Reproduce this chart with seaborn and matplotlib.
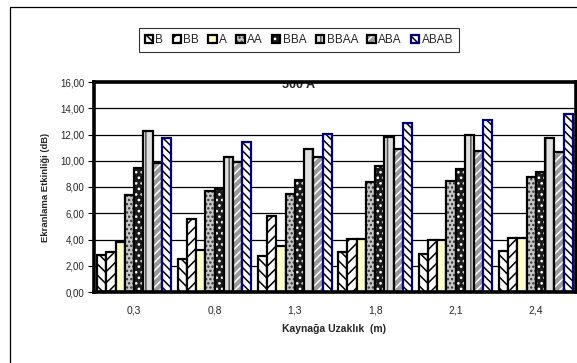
import numpy as np
import pandas as pd
import matplotlib
matplotlib.use("Agg")
import matplotlib.pyplot as plt
from matplotlib.patches import Patch, Rectangle
import seaborn as sns

# ---- data ----
distances = ["0,3", "0,8", "1,3", "1,8", "2,1", "2,4"]
series_names = ["B", "BB", "A", "AA", "BBA", "BBAA", "ABA", "ABAB"]
B = [2.80, 2.54, 2.75, 3.05, 2.87, 3.09]
BB = [3.08, 5.57, 5.77, 4.07, 3.93, 4.13]
A = [3.84, 3.20, 3.48, 4.07, 3.93, 4.13]
AA = [7.37, 7.68, 7.49, 8.38, 8.47, 8.73]
BBA = [9.47, 7.86, 8.54, 9.60, 9.38, 9.11]
BBAA = [12.30, 10.30, 10.86, 11.79, 11.99, 11.70]
ABA = [9.85, 9.93, 10.28, 10.86, 10.76, 10.63]
ABAB = [11.74, 11.42, 12.02, 12.87, 13.11, 13.54]
y_ticks = [0, 2, 4, 6, 8, 10, 12, 14, 16]
title = "500 A"
x_label = "Kaynağa Uzaklık  (m)"
y_label = "Ekranlama Etkinliği (dB)"

values = [B, BB, A, AA, BBA, BBAA, ABA, ABAB]
df = pd.DataFrame(
    [(d, s, v) for s, vals in zip(series_names, values) for d, v in zip(distances, vals)],
    columns=["dist", "series", "val"],
)

# ---- styles: face, hatch, hatch colour, edge ----
styles = {
    "B":    ("#ffffff", "\\\\\\", "#000000", "#000000"),
    "BB":   ("#ffffff", "///",   "#000000", "#000000"),
    "A":    ("#ffffcc", "",      "#000000", "#000000"),
    "AA":   ("#c8c8c8", "....",  "#303030", "#000000"),
    "BBA":  ("#1c1c1c", "...",   "#ffffff", "#000000"),
    "BBAA": ("#e0e0e0", "||",    "#555555", "#000000"),
    "ABA":  ("#9a9a9a", "////",  "#ffffff", "#000000"),
    "ABAB": ("#ffffff", "\\\\\\\\", "#000000", "#000080"),
}

sns.set_style("white")
plt.rcParams["font.family"] = ["Liberation Sans", "DejaVu Sans"]
plt.rcParams["hatch.linewidth"] = 1.1

fig = plt.figure(figsize=(5.77, 3.63), dpi=100)
ax = fig.add_axes([94 / 577, 1 - 292 / 363, (576 - 94) / 577, (292 - 82) / 363])

palette = {s: styles[s][0] for s in series_names}
sns.barplot(data=df, x="dist", y="val", hue="series", hue_order=series_names,
            order=distances, palette=palette, width=0.92, gap=0,
            edgecolor="black", linewidth=1.6, saturation=1, legend=False, ax=ax)

for cont, s in zip(ax.containers, series_names):
    face, hatch, hcol, edge = styles[s]
    for p in cont:
        p.set_facecolor(face)
        p.set_edgecolor(edge)
        p.set_hatch(hatch if hatch else None)
        p._hatch_color = matplotlib.colors.to_rgba(hcol)
        p.set_zorder(3)

ax.set_ylim(0, 16)
ax.set_xlim(-0.5, len(distances) - 0.5)
ax.set_yticks(y_ticks)
ax.set_yticklabels([f"{t:.2f}".replace(".", ",") for t in y_ticks], fontsize=7)
ax.set_xticks(range(len(distances)))
ax.set_xticklabels(distances, fontsize=7.5)
ax.set_xticks(np.arange(-0.5, len(distances)), minor=True)
ax.tick_params(axis="x", which="major", length=0, pad=10)
ax.tick_params(axis="x", which="minor", length=4, width=0.8, direction="out", color="black")
ax.tick_params(axis="y", length=4, width=0.8, direction="out", color="black", left=True, pad=3)
ax.grid(axis="y", color="black", linewidth=0.9)
ax.set_axisbelow(True)
for sp in ax.spines.values():
    sp.set_visible(True)
    sp.set_color("black")
    sp.set_linewidth(2.6)
    sp.set_zorder(5)

ax.set_xlabel("")
ax.set_ylabel("")
fig.text(334 / 577, 1 - 329 / 363, x_label, ha="center", va="center",
         fontsize=7.5, fontweight="bold")
fig.text(45 / 577, 1 - 187 / 363, y_label, ha="center", va="center",
         rotation=90, fontsize=6.8, fontweight="bold")

t = ax.text(298 / 577, 1 - 85 / 363, title, transform=fig.transFigure, ha="center",
            va="center", fontsize=9, fontweight="bold", zorder=1)
t.set_clip_on(True)
t.set_clip_box(ax.bbox)

# legend
handles = []
for s in series_names:
    face, hatch, hcol, edge = styles[s]
    h = Patch(facecolor=face, edgecolor=edge, hatch=hatch if hatch else None, linewidth=1.6)
    h._hatch_color = matplotlib.colors.to_rgba(hcol)
    handles.append(h)
leg = fig.legend(handles, series_names, loc="center", bbox_to_anchor=(299 / 577, 1 - 40 / 363),
                 ncol=8, fontsize=8.5, frameon=True, fancybox=False, handlelength=0.7,
                 handleheight=0.7, handletextpad=0.2, columnspacing=0.8,
                 borderpad=0.5, edgecolor="black")
leg.get_frame().set_linewidth(0.8)

# outer frame
fig.patches.append(Rectangle((10 / 577, -0.1), 1.1, 1 - 7 / 363 + 0.1, transform=fig.transFigure,
                             fill=False, edgecolor="black", linewidth=0.9, zorder=0))

fig.savefig("out.png", dpi=100)
